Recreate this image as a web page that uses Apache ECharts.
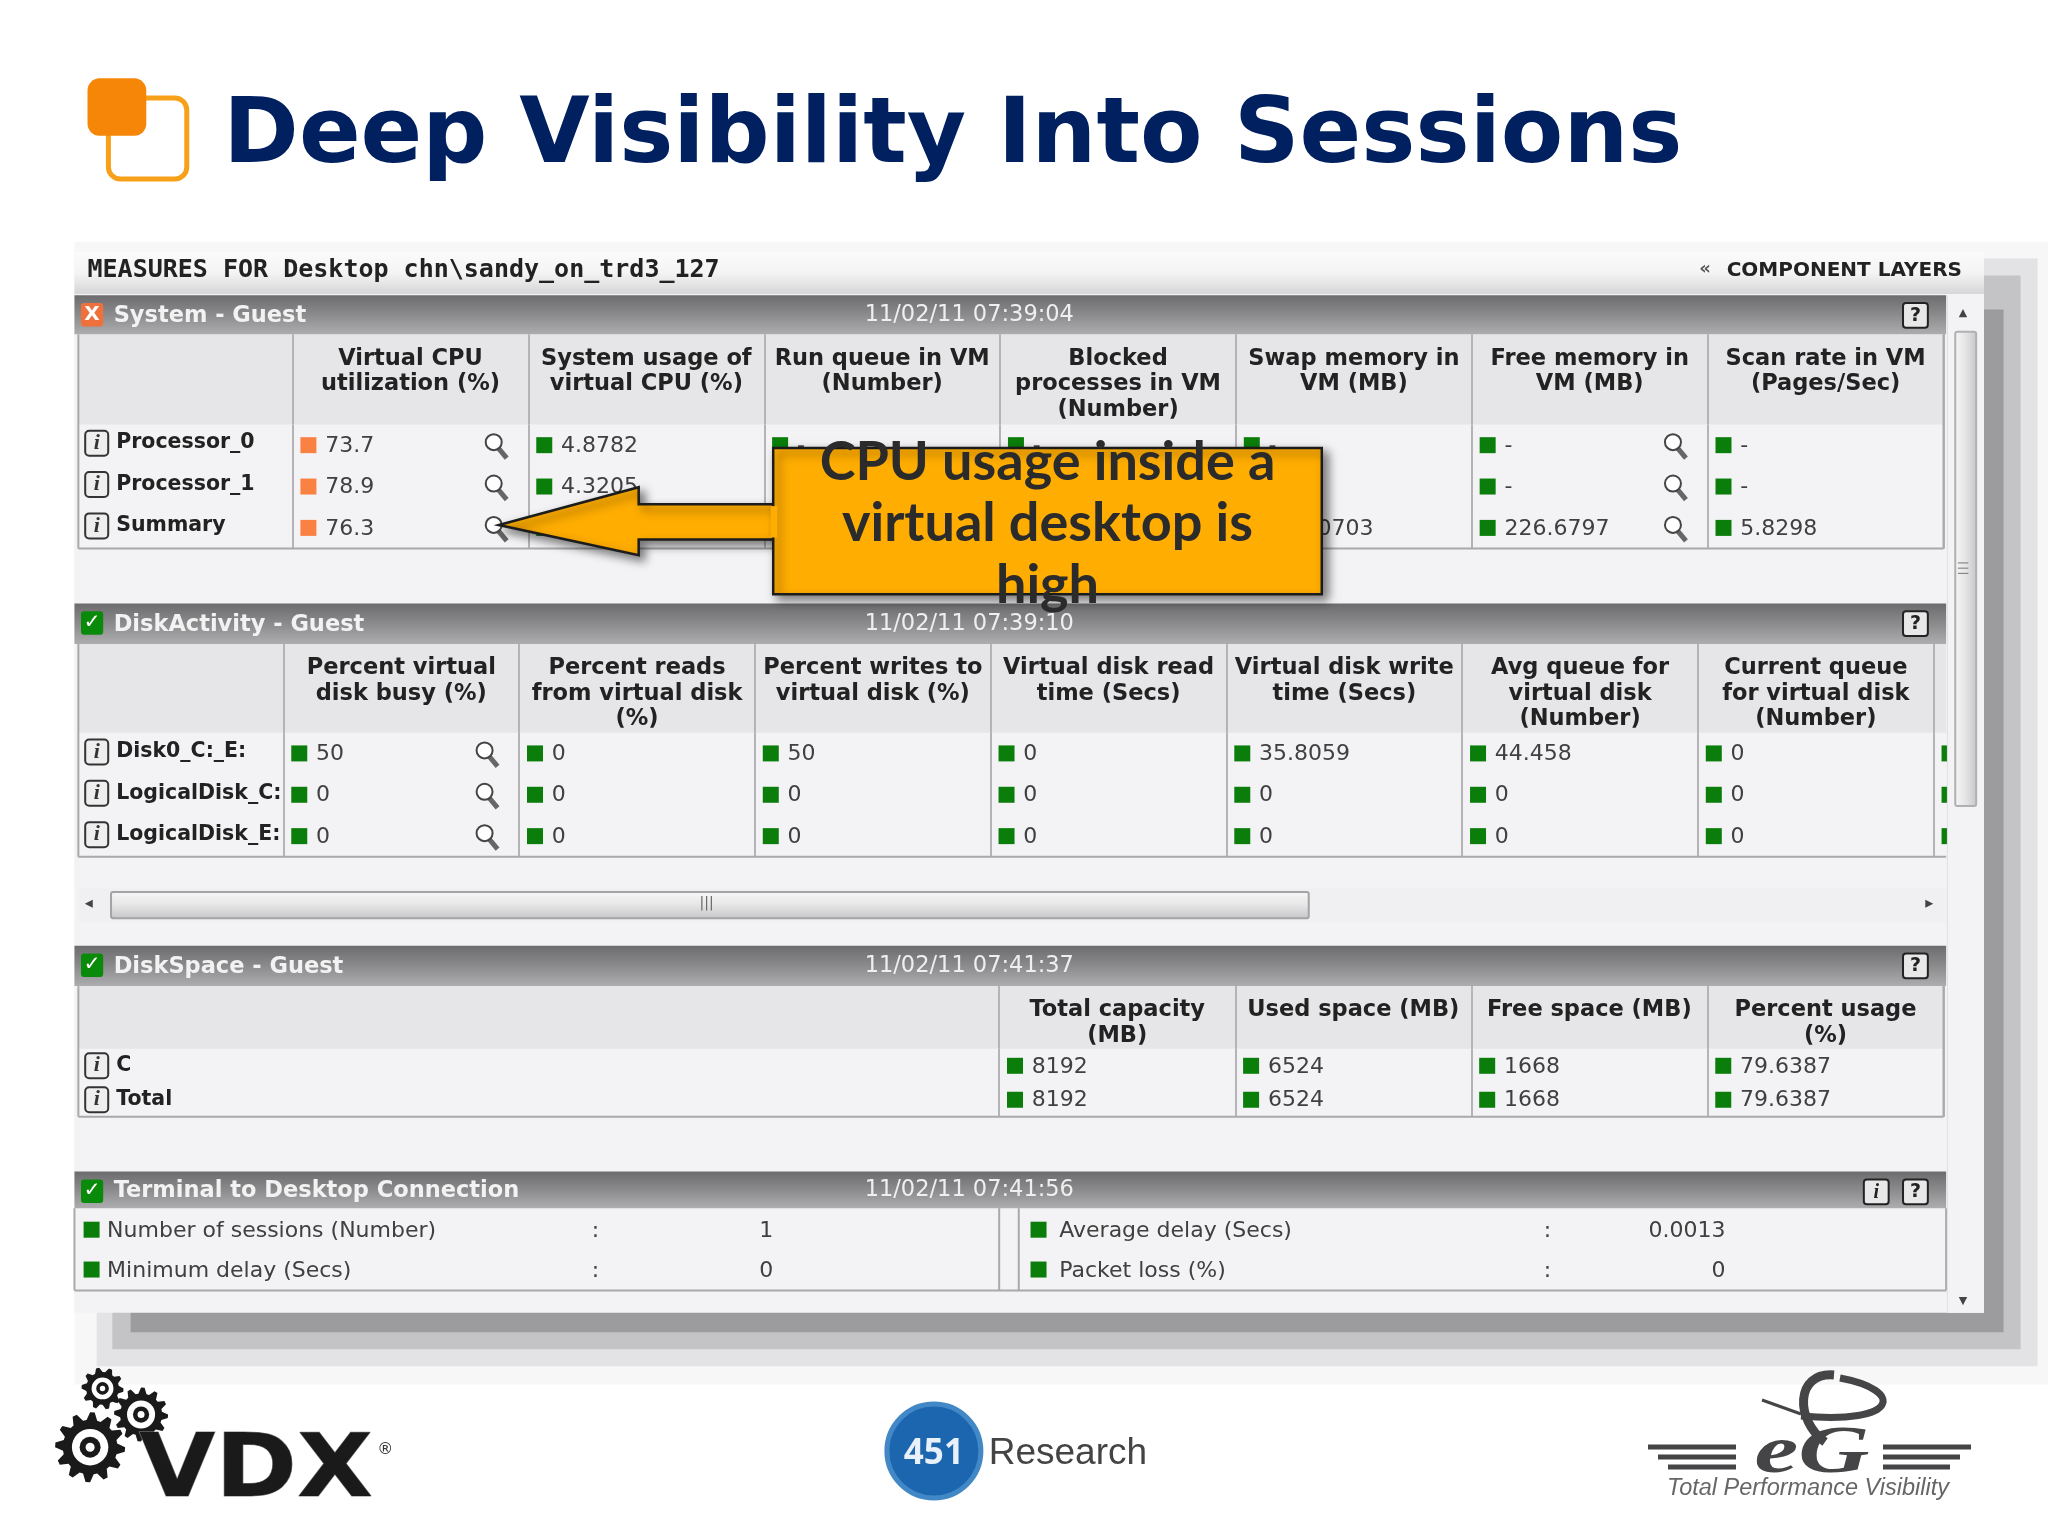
<!DOCTYPE html>
<html>
<head>
<meta charset="utf-8">
<title>Deep Visibility Into Sessions</title>
<script src="https://cdn.jsdelivr.net/npm/echarts@6/dist/echarts.min.js"></script>
<style>
  html, body { margin: 0; padding: 0; background: #fff; }
  #chart { width: 2048px; height: 1536px; }
</style>
</head>
<body>
<div id="chart"></div>
<script>
// System - Guest
const systemColumns = ['Virtual CPU\nutilization (%)', 'System usage of\nvirtual CPU (%)', 'Run queue in VM\n(Number)', 'Blocked\nprocesses in VM\n(Number)', 'Swap memory in\nVM (MB)', 'Free memory in\nVM (MB)', 'Scan rate in VM\n(Pages/Sec)'];
const systemRows = ['Processor_0', 'Processor_1', 'Summary'];
const systemCpu = ['73.7', '78.9', '76.3'];
const systemUsage = ['4.8782', '4.3205', '4.5993'];
const systemRunQueue = ['-', '-', '0'];
const systemBlocked = ['-', '-', '0'];
const systemSwap = ['-', '-', '512.0703'];
const systemFree = ['-', '-', '226.6797'];
const systemScan = ['-', '-', '5.8298'];

// DiskActivity - Guest
const diskColumns = ['Percent virtual\ndisk busy (%)', 'Percent reads\nfrom virtual disk\n(%)', 'Percent writes to\nvirtual disk (%)', 'Virtual disk read\ntime (Secs)', 'Virtual disk write\ntime (Secs)', 'Avg queue for\nvirtual disk\n(Number)', 'Current queue\nfor virtual disk\n(Number)'];
const diskRows = ['Disk0_C:_E:', 'LogicalDisk_C:', 'LogicalDisk_E:'];
const diskBusy = ['50', '0', '0'];
const diskReads = ['0', '0', '0'];
const diskWrites = ['50', '0', '0'];
const diskReadTime = ['0', '0', '0'];
const diskWriteTime = ['35.8059', '0', '0'];
const diskAvgQueue = ['44.458', '0', '0'];
const diskCurQueue = ['0', '0', '0'];
// the next column has scrolled away, only its status squares peek out
const diskClipped = ['', '', ''];

// DiskSpace - Guest
const spaceColumns = ['Total capacity\n(MB)', 'Used space (MB)', 'Free space (MB)', 'Percent usage\n(%)'];
const spaceRows = ['C', 'Total'];
const spaceCapacity = ['8192', '8192'];
const spaceUsed = ['6524', '6524'];
const spaceFree = ['1668', '1668'];
const spacePercent = ['79.6387', '79.6387'];

// Terminal to Desktop Connection
const terminalColumns = ['left', 'right'];
const terminalRows = ['first', 'second'];
const terminalLeftNames = ['Number of sessions (Number)', 'Minimum delay (Secs)'];
const terminalLeftValues = ['1', '0'];
const terminalRightNames = ['Average delay (Secs)', 'Packet loss (%)'];
const terminalRightValues = ['0.0013', '0'];

const ORANGE = '#f98243';
const GREEN = '#0a7d0a';
const TEXT = '#404040';
const FONT = '"DejaVu Sans"';

// The reference was measured on a 1568 wide preview
const s = n => n * 2048 / 1568;

const chart = echarts.init(document.getElementById('chart'));

function cellsFrom(columns, zoomColumns, colorOf) {
    const cells = [];
    columns.forEach((values, col) => {
        values.forEach((text, row) => {
            cells.push({ col, row, text, color: colorOf(col), zoom: zoomColumns.includes(col), shift: 0 });
        });
    });
    return cells;
}

function tableCell(cells) {
    return function (params, api) {
        const cell = cells[params.dataIndex];
        const c = api.coord([cell.col, cell.row]);
        const band = api.size([1, 0])[0];
        const left = c[0] - band / 2 + band * cell.shift;
        const kids = [
            { type: 'rect', shape: { x: left + s(6), y: c[1] - 8, width: 16, height: 16 }, style: { fill: cell.color } },
            { type: 'text', style: { x: left + s(25), y: c[1] + 1, text: cell.text, fill: TEXT, font: '22px ' + FONT, textVerticalAlign: 'middle' } }
        ];
        if (cell.zoom) {
            const mx = left + s(154), my = c[1] - 3;
            kids.push(
                { type: 'line', shape: { x1: mx + 3, y1: my + 4, x2: mx + 13, y2: my + 16 }, style: { stroke: '#666', lineWidth: 5 } },
                { type: 'circle', shape: { cx: mx, cy: my, r: 8 }, style: { fill: '#fff', stroke: '#444', lineWidth: 2 } }
            );
        }
        return { type: 'group', children: kids };
    };
}

function terminalCell(params, api) {
    const col = api.value(0), row = api.value(1);
    const c = api.coord([col, row]);
    const left = c[0] - api.size([1, 0])[0] / 2;
    const off = col === 0 ? [7, 25, 396, 535] : [17, 39, 410, 549];
    const name = (col === 0 ? terminalLeftNames : terminalRightNames)[row];
    const value = (col === 0 ? terminalLeftValues : terminalRightValues)[row];
    const font = '22px ' + FONT;
    return {
        type: 'group',
        children: [
            { type: 'rect', shape: { x: left + s(off[0]), y: c[1] - 9, width: 16, height: 16 }, style: { fill: GREEN } },
            { type: 'text', style: { x: left + s(off[1]), y: c[1] + 1, text: name, fill: TEXT, font, textVerticalAlign: 'middle' } },
            { type: 'text', style: { x: left + s(off[2]), y: c[1] + 1, text: ':', fill: TEXT, font, textVerticalAlign: 'middle' } },
            { type: 'text', style: { x: left + s(off[3]), y: c[1] + 1, text: value, fill: TEXT, font, textAlign: 'right', textVerticalAlign: 'middle' } }
        ]
    };
}

// x, y in preview pixels
const graphics = [];
function box(x, y, w, h, fill, z, extra) {
    graphics.push(Object.assign({ type: 'rect', z: z || 0, shape: { x: s(x), y: s(y), width: s(w), height: s(h) }, style: { fill } }, extra || {}));
}
function label(x, y, text, font, fill, z, align) {
    graphics.push({ type: 'text', z: z || 1, style: { x: s(x), y: s(y), text, font, fill, textAlign: align || 'left', textVerticalAlign: 'middle' } });
}
function stroke(x1, y1, x2, y2, color, width, z) {
    graphics.push({ type: 'line', z: z || 1, shape: { x1: s(x1), y1: s(y1), x2: s(x2), y2: s(y2) }, style: { stroke: color, lineWidth: width || 2 } });
}
const vGrad = stops => new echarts.graphic.LinearGradient(0, 0, 0, 1, stops.map((c, i) => ({ offset: i / (stops.length - 1), color: c })));
const hGrad = stops => new echarts.graphic.LinearGradient(0, 0, 1, 0, stops.map((c, i) => ({ offset: i / (stops.length - 1), color: c })));

function gearPoints(cx, cy, r, teeth) {
    const pts = [];
    for (let i = 0; i < teeth * 4; i++) {
        const a = i / (teeth * 4) * Math.PI * 2;
        const rad = (i % 4 < 2) ? r : r * 0.78;
        pts.push([cx + Math.cos(a) * rad, cy + Math.sin(a) * rad]);
    }
    return pts;
}
function gear(cx, cy, r, teeth) {
    graphics.push({ type: 'polygon', z: 3, shape: { points: gearPoints(cx, cy, r, teeth) }, style: { fill: '#1a1a1a' } });
    graphics.push({ type: 'circle', z: 4, shape: { cx, cy, r: r * 0.52 }, style: { fill: '#fff' } });
    graphics.push({ type: 'circle', z: 5, shape: { cx, cy, r: r * 0.3 }, style: { fill: '#1a1a1a' } });
    graphics.push({ type: 'circle', z: 6, shape: { cx, cy, r: r * 0.13 }, style: { fill: '#fff' } });
}

// Title and bullet
label(171, 106, 'Deep Visibility Into Sessions', 'bold 91px ' + FONT, '#002060', 3);
box(83, 75, 60, 62, '#fff', 2, { style: { fill: '#fff', stroke: '#f7a11a', lineWidth: 5 }, shape: { x: s(83), y: s(75), width: s(60), height: s(62), r: 12 } });
box(67, 60, 45, 44, '#f58608', 3, { shape: { x: s(67), y: s(60), width: s(45), height: s(44), r: 12 } });

// Soft shadow, nested steps from light to dark
[[57, 185, 1568, 1060, '#f7f7f8'], [74, 198, 1560, 1046, '#e3e3e5'], [86, 211, 1547, 1033, '#c4c4c6'], [100, 237, 1534, 1020, '#9c9c9e']].forEach((st, i) => {
    box(st[0], st[1], st[2] - st[0], st[3] - st[1], st[4], -9 + i);
});

// Panel
box(57, 193, 1462, 812, '#f3f3f5', -2);
box(57, 193, 1462, 32, '#fff', -1, { style: { fill: vGrad(['#fbfbfb', '#f4f4f5', '#d6d6d8']) } });
label(67, 207, 'MEASURES FOR Desktop chn\\sandy_on_trd3_127', 'bold 25px "DejaVu Sans Mono"', '#222', 2);
label(1322, 207, 'COMPONENT LAYERS', 'bold 20px ' + FONT, '#222', 2);
label(1301, 206, '\u00ab', 'bold 18px ' + FONT, '#555', 2);

// Section bars
function sectionBar(y, h, title, time, ok, withInfo) {
    box(57, y, 1433, h, '#777', 1, { style: { fill: vGrad(['#6c6c6f', '#8b8b8d', '#adadaf']) } });
    label(87, y + h / 2 + 1, title, 'bold 22.5px ' + FONT, '#f2f2f2', 3);
    label(662, y + h / 2, time, '22.5px ' + FONT, '#efefef', 3);
    box(62, y + 6, 17, 18, ok ? '#0a8a0a' : '#f0703c', 3, { shape: { x: s(62), y: s(y + 6), width: s(17), height: s(18), r: 3 } });
    label(70.5, y + 15, ok ? '\u2713' : 'X', 'bold 20px ' + FONT, '#fff', 4, 'center');
    helpIcon(1457, y + 6, '?');
    if (withInfo) helpIcon(1427, y + 6, 'i');
}
function helpIcon(x, y, ch) {
    graphics.push({ type: 'rect', z: 3, shape: { x: s(x), y: s(y), width: s(19), height: s(19), r: 3 }, style: { fill: '#e8e8e8', stroke: '#222', lineWidth: 2 } });
    label(x + 9.5, y + 10, ch, ch === 'i' ? 'italic bold 20px "Liberation Serif"' : 'bold 19px ' + FONT, '#222', 4, 'center');
}
sectionBar(226, 30, 'System - Guest', '11/02/11 07:39:04', false);
sectionBar(462, 31, 'DiskActivity - Guest', '11/02/11 07:39:10', true);
sectionBar(724, 31, 'DiskSpace - Guest', '11/02/11 07:41:37', true);
sectionBar(897, 28, 'Terminal to Desktop Connection', '11/02/11 07:41:56', true, true);

// Table header backgrounds and borders
function tableFrame(top, headerBottom, bottom, right) {
    box(60, top, right - 60, headerBottom - top, '#e6e6e8', -1);
    stroke(60, top, 60, bottom, '#a9a9ab', 2, 1);
    stroke(60, bottom, right, bottom, '#a9a9ab', 2, 1);
}
tableFrame(256, 325, 420, 1488);
stroke(1488, 256, 1488, 420, '#a9a9ab', 2, 1);
tableFrame(493, 561, 656, 1490);
tableFrame(755, 803, 855, 1488);
stroke(1488, 755, 1488, 855, '#a9a9ab', 2, 1);
stroke(57, 925, 57, 988, '#a9a9ab', 2, 1);
stroke(57, 988, 1490, 988, '#a9a9ab', 2, 1);
stroke(1490, 925, 1490, 988, '#a9a9ab', 2, 1);
stroke(765, 925, 765, 988, '#a9a9ab', 2, 1);
stroke(780, 925, 780, 988, '#a9a9ab', 2, 1);

// Horizontal scrollbar
box(60, 680, 1430, 26, '#f0f0f2', 1);
graphics.push({ type: 'rect', z: 2, shape: { x: s(85), y: s(683), width: s(917), height: s(20), r: 2 }, style: { fill: vGrad(['#f7f7f7', '#e6e6e7', '#c4c4c6']), stroke: '#a4a4a6', lineWidth: 2 } });
label(541, 692, '|||', '14px ' + FONT, '#666', 3, 'center');
label(68, 692, '\u25c2', '16px ' + FONT, '#444', 3, 'center');
label(1477, 692, '\u25b8', '16px ' + FONT, '#444', 3, 'center');

// Vertical scrollbar, also hides what scrolled off the disk table
box(1491, 226, 28, 779, '#f3f3f5', 10);
stroke(1491, 226, 1491, 1005, '#e0e0e2', 1, 10);
graphics.push({ type: 'rect', z: 11, shape: { x: s(1497), y: s(254), width: s(16), height: s(363), r: 2 }, style: { fill: hGrad(['#f7f7f7', '#e4e4e5', '#c6c6c8']), stroke: '#b0b0b2', lineWidth: 2 } });
for (let i = 0; i < 3; i++) stroke(1499, 431 + i * 4, 1507, 431 + i * 4, '#777', 1, 12);
label(1503, 240, '\u25b2', '11px ' + FONT, '#444', 11, 'center');
label(1503, 996, '\u25bc', '11px ' + FONT, '#444', 11, 'center');

// Callout
const calloutStyle = { fill: '#ffad00', stroke: '#1c1c1c', lineWidth: 2.5, shadowBlur: 10, shadowOffsetX: 5, shadowOffsetY: 5, shadowColor: 'rgba(0,0,0,0.5)' };
graphics.push({
    type: 'polygon', z: 20,
    shape: { points: [[382, 402], [489, 373], [489, 386], [594, 386], [594, 413], [489, 413], [489, 425]].map(p => [s(p[0]), s(p[1])]) },
    style: calloutStyle
});
box(592, 343, 420, 112, '#ffad00', 20, { style: calloutStyle });
box(590, 387.5, 5, 24, '#ffad00', 21);
['CPU usage inside a', 'virtual desktop is', 'high'].forEach((line, i) => {
    label(802, 354 + i * 47, line, 'bold 54px Lato', '#2b2b2b', 22, 'center');
});

// Footer logos
gear(s(78.5), s(1063), 21, 10);
gear(s(108), s(1083), 27, 12);
gear(s(69), s(1108), 35, 12);
graphics.push({ type: 'text', z: 3, x: s(196), y: s(1128), scaleX: 1.12, style: { x: 0, y: 0, text: 'VDX', font: 'bold 88px ' + FONT, fill: '#1a1a1a', stroke: '#888', lineWidth: 1, textAlign: 'center', textVerticalAlign: 'middle' } });
label(295, 1110, '\u00ae', '16px ' + FONT, '#333', 3, 'center');

graphics.push({ type: 'circle', z: 3, shape: { cx: s(715), cy: s(1111), r: 47 }, style: { fill: '#1c66b0', stroke: '#4388c6', lineWidth: 5 } });
label(715, 1113, '451', 'bold 35px "Open Sans"', '#e8f1f9', 4, 'center');
label(757, 1113, 'Research', '37px "Liberation Sans"', '#444', 3);

const logoGrey = '#454547';
[[1648, 1736, 1447], [1658, 1736, 1457], [1668, 1736, 1467], [1883, 1971, 1447], [1883, 1960, 1457], [1883, 1950, 1467]].forEach(b => {
    graphics.push({ type: 'line', z: 3, shape: { x1: b[0], y1: b[2], x2: b[1], y2: b[2] }, style: { stroke: logoGrey, lineWidth: 5 } });
});
graphics.push({ type: 'bezierCurve', z: 3, shape: { x1: 1834, y1: 1375, cpx1: 1795, cpy1: 1372, cpx2: 1795, cpy2: 1420, x2: 1825, y2: 1442 }, style: { stroke: logoGrey, lineWidth: 9, fill: 'none' } });
graphics.push({ type: 'bezierCurve', z: 3, shape: { x1: 1840, y1: 1378, cpx1: 1905, cpy1: 1390, cpx2: 1900, cpy2: 1425, x2: 1801, y2: 1416 }, style: { stroke: logoGrey, lineWidth: 7, fill: 'none' } });
graphics.push({ type: 'line', z: 3, shape: { x1: 1762, y1: 1400, x2: 1801, y2: 1414 }, style: { stroke: logoGrey, lineWidth: 3 } });
graphics.push({ type: 'text', z: 4, x: 1812, y: 1454, scaleX: 1.45, style: { x: 0, y: 0, text: 'eG', font: 'italic bold 68px "Liberation Serif"', fill: logoGrey, textAlign: 'center', textVerticalAlign: 'middle' } });
graphics.push({ type: 'text', z: 4, style: { x: 1808, y: 1488, text: 'Total Performance Visibility', font: 'italic 23.5px "Liberation Sans Narrow", "Liberation Sans"', fill: '#666', textAlign: 'center', textVerticalAlign: 'middle' } });

// One grid for each table
function tableGrid(left, top, width, bottom) {
    return { left: s(left), top: s(top), width: s(width), height: s(bottom - top), show: false };
}
function xAxisFor(i, columns, headerTop, gridTop) {
    return {
        type: 'category', gridIndex: i, position: 'top', data: columns,
        axisLine: { show: false },
        axisTick: { show: true, length: s(gridTop - headerTop), lineStyle: { color: '#b4b4b6', width: 2 } },
        splitLine: { show: true, lineStyle: { color: '#b4b4b6', width: 2 } },
        axisLabel: {
            interval: 0, hideOverlap: false, verticalAlign: 'top', margin: s(gridTop - headerTop - 9),
            color: '#222', fontFamily: FONT, fontWeight: 'bold', fontSize: 22.5, lineHeight: 25.5
        }
    };
}
function yAxisFor(i, rows, labelMargin, lift) {
    return {
        type: 'category', gridIndex: i, inverse: true, data: rows,
        axisLine: { show: false }, axisTick: { show: false }, splitLine: { show: false },
        axisLabel: {
            interval: 0, align: 'left', margin: labelMargin, padding: [0, 0, lift, 0],
            formatter: v => '{i|i}{name|' + v + '}',
            rich: {
                i: { width: 21, height: 23, align: 'center', backgroundColor: '#eee', borderColor: '#333', borderWidth: 2, borderRadius: 3, fontFamily: '"Liberation Serif"', fontStyle: 'italic', fontWeight: 'bold', fontSize: 22, color: '#333' },
                name: { padding: [0, 0, 0, 9], fontFamily: FONT, fontWeight: 'bold', fontSize: 20.5, color: '#222' }
            }
        }
    };
}

const systemCells = cellsFrom([systemCpu, systemUsage, systemRunQueue, systemBlocked, systemSwap, systemFree, systemScan], [0, 5], c => c === 0 ? ORANGE : GREEN);
const diskCells = cellsFrom([diskBusy, diskReads, diskWrites, diskReadTime, diskWriteTime, diskAvgQueue, diskCurQueue], [0], () => GREEN);
diskClipped.forEach((text, row) => diskCells.push({ col: diskColumns.length - 1, row, text, color: GREEN, zoom: false, shift: 1 }));
const spaceCells = cellsFrom([spaceCapacity, spaceUsed, spaceFree, spacePercent], [], () => GREEN);
const terminalData = [];
terminalColumns.forEach((c, col) => terminalRows.forEach((r, row) => terminalData.push([col, row])));

function tableSeries(i, cells) {
    return {
        type: 'custom', xAxisIndex: i, yAxisIndex: i, silent: true,
        encode: { x: 0, y: 1 },
        data: cells.map(c => [c.col, c.row]),
        renderItem: tableCell(cells)
    };
}

const terminalX = xAxisFor(3, terminalColumns, 925, 925);
terminalX.axisLabel = { show: false };
terminalX.axisTick = { show: false };
terminalX.splitLine = { show: false };
const terminalY = yAxisFor(3, terminalRows, 0, 0);
terminalY.axisLabel = { show: false };

chart.setOption({
    animation: false,
    backgroundColor: '#fff',
    grid: [
        tableGrid(224, 325, 1264, 420),
        tableGrid(217, 561, 1263.5, 656),
        tableGrid(765, 803, 723, 855),
        tableGrid(57, 927, 1430, 988)
    ],
    xAxis: [
        xAxisFor(0, systemColumns, 256, 325),
        xAxisFor(1, diskColumns, 493, 561),
        xAxisFor(2, spaceColumns, 755, 803),
        terminalX
    ],
    yAxis: [
        yAxisFor(0, systemRows, s(158), 4),
        yAxisFor(1, diskRows, s(151), 3),
        yAxisFor(2, spaceRows, s(699), 0),
        terminalY
    ],
    series: [
        tableSeries(0, systemCells),
        tableSeries(1, diskCells),
        tableSeries(2, spaceCells),
        { type: 'custom', xAxisIndex: 3, yAxisIndex: 3, silent: true, encode: { x: 0, y: 1 }, data: terminalData, renderItem: terminalCell }
    ],
    graphic: graphics
});
</script>
</body>
</html>
